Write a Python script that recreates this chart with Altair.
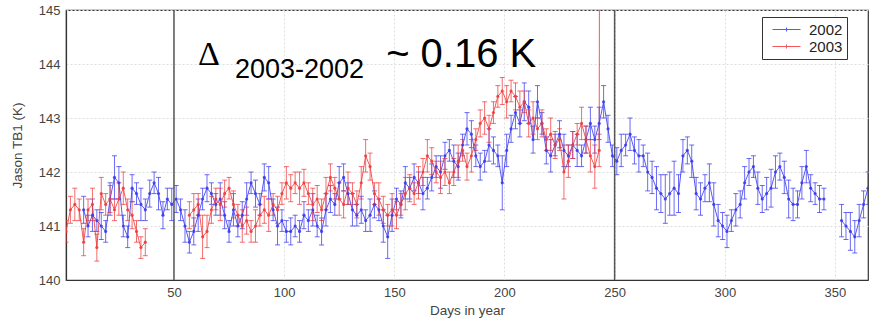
import altair as alt
import pandas as pd

# ---------------- data ----------------
BLUE = "#3b3bf0"
RED = "#f03c3c"

B_DAYS_1 = list(range(9, 346, 2))
B_DAYS_2 = list(range(353, 366, 2))
B_T_1 = [
    141.3, 141.0, 141.2, 141.1, 141.0, 140.9, 141.5, 141.9, 141.8, 141.0,
    140.8, 141.7, 141.6, 141.4, 141.3, 141.6, 141.8, 141.6, 141.2, 141.5,
    141.4, 141.5, 141.3, 141.0, 140.7, 140.9, 141.2, 141.5, 141.7, 141.6,
    141.4, 141.5, 141.2, 140.9, 141.3, 141.0, 141.2, 141.5, 141.8, 141.6,
    141.4, 141.9, 141.8, 141.3, 141.0, 141.1, 140.9, 140.9, 141.0, 140.9,
    141.2, 141.1, 141.3, 141.0, 140.9, 141.3, 141.5, 141.4, 141.8, 141.9,
    141.6, 141.3, 141.2, 141.3, 141.1, 141.2, 141.4, 141.3, 141.0, 140.8,
    141.2, 141.5, 141.4, 141.8, 141.7, 141.9, 141.8, 141.6, 141.7, 141.9,
    142.1, 142.0, 142.3, 142.4, 142.2, 142.1, 142.5, 142.8, 142.7, 142.3,
    142.1, 142.2, 142.5, 142.4, 142.3, 141.8, 142.4, 142.8, 143.1, 142.9,
    143.3, 143.2, 142.6, 143.3, 142.9, 142.4, 142.3, 142.5, 142.7, 142.4,
    142.3, 142.5, 142.4, 142.3, 142.6, 142.9, 142.6, 142.9, 143.3, 142.8,
    142.3, 142.2, 142.4, 142.5, 142.7, 142.4, 142.3, 142.3, 142.0, 141.9,
    141.7, 141.6, 141.5, 141.6, 141.7, 141.6, 142.3, 142.4, 142.2, 141.6,
    141.5, 141.7, 141.8, 141.4, 141.1, 141.0, 140.9, 141.1, 141.3, 141.4,
    141.8, 142.0, 142.1, 141.7, 141.5, 141.6, 141.7, 142.0, 142.1, 141.9,
    141.5, 141.4, 141.4, 141.8, 142.1, 141.7, 141.6, 141.5, 141.5,
]
B_T_2 = [141.1, 141.0, 140.9, 140.8, 141.1, 141.4, 141.7]
B_E_1 = [
    0.25, 0.2, 0.3, 0.2, 0.25, 0.2, 0.3, 0.4, 0.3, 0.2,
    0.2, 0.25, 0.2, 0.3, 0.2, 0.25, 0.2, 0.3, 0.25, 0.2,
    0.3, 0.25, 0.2, 0.3, 0.2, 0.25, 0.3, 0.2, 0.25, 0.2,
    0.2, 0.3, 0.25, 0.2, 0.3, 0.2, 0.25, 0.3, 0.2, 0.25,
    0.2, 0.25, 0.3, 0.2, 0.35, 0.2, 0.2, 0.25, 0.2, 0.2,
    0.25, 0.2, 0.3, 0.2, 0.25, 0.3, 0.25, 0.2, 0.3, 0.25,
    0.2, 0.3, 0.2, 0.25, 0.2, 0.3, 0.25, 0.2, 0.3, 0.4,
    0.3, 0.2, 0.25, 0.3, 0.2, 0.25, 0.2, 0.3, 0.2, 0.25,
    0.2, 0.3, 0.25, 0.2, 0.3, 0.25, 0.2, 0.3, 0.25, 0.2,
    0.25, 0.2, 0.3, 0.25, 0.2, 0.5, 0.3, 0.25, 0.3, 0.25,
    0.35, 0.3, 0.25, 0.3, 0.2, 0.25, 0.3, 0.2, 0.25, 0.3,
    0.2, 0.25, 0.3, 0.2, 0.25, 0.3, 0.25, 0.3, 0.3, 0.25,
    0.2, 0.25, 0.3, 0.2, 0.3, 0.25, 0.3, 0.2, 0.35, 0.3,
    0.4, 0.35, 0.45, 0.4, 0.5, 0.35, 0.3, 0.25, 0.3, 0.3,
    0.3, 0.25, 0.35, 0.4, 0.3, 0.25, 0.3, 0.2, 0.3, 0.25,
    0.3, 0.25, 0.2, 0.3, 0.25, 0.3, 0.35, 0.3, 0.25, 0.3,
    0.35, 0.3, 0.25, 0.3, 0.3, 0.25, 0.2, 0.25, 0.2,
]
B_E_2 = [0.3, 0.25, 0.35, 0.3, 0.3, 0.25, 0.3]

R_DAYS_1 = list(range(1, 38, 2))
R_DAYS_2 = list(range(57, 246, 2))
R_T_1 = [
    140.9, 141.3, 141.4, 141.3, 140.7, 141.3, 141.4, 140.6, 141.6, 141.4,
    141.5, 141.3, 141.5, 141.7, 141.3, 141.2, 140.9, 140.6, 140.7,
]
R_T_2 = [
    141.2, 141.3, 141.4, 140.8, 140.9, 141.3, 141.5, 141.4, 141.6, 141.7,
    141.4, 141.2, 141.0, 141.1, 140.9, 141.0, 141.2, 141.3, 141.2, 141.4,
    141.3, 141.6, 141.8, 141.7, 141.8, 141.7, 141.8, 141.6, 141.4, 141.5,
    141.3, 141.6, 141.9, 141.7, 141.5, 141.4, 141.7, 141.6, 141.4, 141.8,
    142.3, 142.1, 141.6, 141.5, 141.3, 141.2, 141.3, 141.2, 141.4, 141.6,
    141.7, 141.6, 141.8, 142.0, 142.3, 142.2, 142.0, 141.9, 142.0, 141.8,
    142.0, 142.2, 142.4, 142.1, 142.3, 142.6, 142.9, 143.0, 142.8, 143.1,
    143.4, 143.5, 143.3, 143.5, 143.4, 143.2, 143.3, 142.9, 143.0, 142.8,
    142.9, 142.6, 142.7, 142.5, 142.6, 142.0, 142.2, 142.5, 142.7, 142.9,
    142.6, 142.3, 142.1, 142.4, 200.0,
]
R_E_1 = [
    0.2, 0.25, 0.3, 0.2, 0.25, 0.2, 0.3, 0.25, 0.3, 0.2,
    0.25, 0.2, 0.3, 0.3, 0.2, 0.25, 0.2, 0.2, 0.25,
]
R_E_2 = [
    0.25, 0.3, 0.2, 0.4, 0.3, 0.25, 0.2, 0.3, 0.25, 0.2,
    0.25, 0.2, 0.3, 0.25, 0.2, 0.3, 0.2, 0.25, 0.3, 0.2,
    0.25, 0.2, 0.3, 0.25, 0.2, 0.3, 0.25, 0.2, 0.3, 0.25,
    0.2, 0.3, 0.25, 0.2, 0.3, 0.25, 0.3, 0.2, 0.25, 0.3,
    0.3, 0.25, 0.2, 0.3, 0.25, 0.2, 0.3, 0.25, 0.2, 0.3,
    0.25, 0.2, 0.3, 0.25, 0.3, 0.25, 0.2, 0.3, 0.25, 0.2,
    0.25, 0.3, 0.2, 0.25, 0.3, 0.2, 0.25, 0.3, 0.25, 0.2,
    0.2, 0.25, 0.3, 0.2, 0.25, 0.3, 0.2, 0.25, 0.3, 0.2,
    0.25, 0.2, 0.3, 0.25, 0.2, 0.5, 0.3, 0.25, 0.2, 0.3,
    0.25, 0.3, 0.4, 0.3, 0.3,
]

XTICKS = [50, 100, 150, 200, 250, 300, 350]
YTICKS = [140, 141, 142, 143, 144, 145]
VLINES = [50, 250]
YEARS = ["2002", "2003"]

# ---------------- table ----------------
rows = []
series = [
    ("2002", "b1", B_DAYS_1, B_T_1, B_E_1),
    ("2002", "b2", B_DAYS_2, B_T_2, B_E_2),
    ("2003", "r1", R_DAYS_1, R_T_1, R_E_1),
    ("2003", "r2", R_DAYS_2, R_T_2, R_E_2),
]
for yr, seg, d, t, e in series:
    assert len(d) == len(t) == len(e), (seg, len(d), len(t), len(e))
    for di, ti, ei in zip(d, t, e):
        rows.append({"year": yr, "seg": seg, "day": di, "t": ti,
                     "lo": ti - ei, "hi": ti + ei})
df = pd.DataFrame(rows)

xscale = alt.Scale(domain=[1, 365], nice=False, zero=False)
yscale = alt.Scale(domain=[140, 145], nice=False, zero=False)
xaxis = alt.Axis(values=XTICKS, title="Days in year", grid=True, ticks=False,
                 labelPadding=6, titlePadding=4)
yaxis = alt.Axis(values=YTICKS, title="Jason TB1 (K)", grid=True, ticks=False,
                 labelPadding=6, titlePadding=14)
color = alt.Color(
    "year:N",
    scale=alt.Scale(domain=YEARS, range=[BLUE, RED]),
    legend=alt.Legend(
        orient="none", legendX=696, legendY=7, title=None,
        symbolType="M-1.75,0H1.75M-0.25,0H0.25M0,-0.25V0.25",
        symbolSize=256, symbolStrokeWidth=1,
        labelFont="Liberation Sans", labelFontSize=15, labelColor="#222",
        strokeColor="#333", fillColor="white", padding=4, rowPadding=0,
        symbolOffset=12, labelOffset=14, cornerRadius=0,
    ),
)

base = alt.Chart(df)

errbars = base.mark_errorbar(ticks=True, size=5, thickness=1, clip=True).encode(
    x=alt.X("day:Q", scale=xscale, axis=xaxis),
    y=alt.Y("lo:Q", scale=yscale, axis=yaxis),
    y2="hi:Q",
    color=color,
    detail="seg:N",
    opacity=alt.value(0.75),
)

lines = base.mark_line(strokeWidth=1, clip=True, opacity=0.85).encode(
    x=alt.X("day:Q", scale=xscale, axis=xaxis),
    y=alt.Y("t:Q", scale=yscale, axis=yaxis),
    color=color,
    detail="seg:N",
    order="day:Q",
)

points = base.mark_point(filled=True, size=10, clip=True, opacity=0.9).encode(
    x=alt.X("day:Q", scale=xscale, axis=xaxis),
    y=alt.Y("t:Q", scale=yscale, axis=yaxis),
    color=color,
)

vrules = alt.Chart(pd.DataFrame({"day": VLINES})).mark_rule(
    color="#555", strokeWidth=1.5
).encode(x=alt.X("day:Q", scale=xscale, axis=xaxis))

one = pd.DataFrame({"k": [0]})
t_delta = alt.Chart(one).mark_text(
    text="\u0394", font="Liberation Serif", fontSize=34, align="left",
    baseline="alphabetic", color="black"
).encode(x=alt.datum(60.9), y=alt.datum(143.98))
t_sub = alt.Chart(one).mark_text(
    text="2003-2002", font="Liberation Sans", fontSize=27, align="left",
    baseline="alphabetic", color="black"
).encode(x=alt.datum(77.7), y=alt.datum(143.74))
t_val = alt.Chart(one).mark_text(
    text="~ 0.16 K", font="Liberation Sans", fontSize=40, align="left",
    baseline="alphabetic", color="black"
).encode(x=alt.datum(146.3), y=alt.datum(143.94))

chart = alt.layer(lines, errbars, points, vrules, t_delta, t_sub, t_val).properties(
    width=802, height=270,
    autosize=alt.AutoSizeParams(type="none"),
    padding={"left": 66, "top": 10, "right": 8, "bottom": 44},
    background="white",
).configure_view(
    stroke="#333", strokeWidth=1.2
).configure_axis(
    labelFont="Liberation Sans", labelFontSize=13, labelColor="#444",
    titleFont="Liberation Sans", titleFontSize=13.5, titleFontWeight="normal",
    titleColor="#444", gridColor="#dedede", gridDash=[2, 2],
    domainColor="#333", domainWidth=1.2,
)

chart.save("out.html", embed_options={"renderer": "svg", "actions": False})
